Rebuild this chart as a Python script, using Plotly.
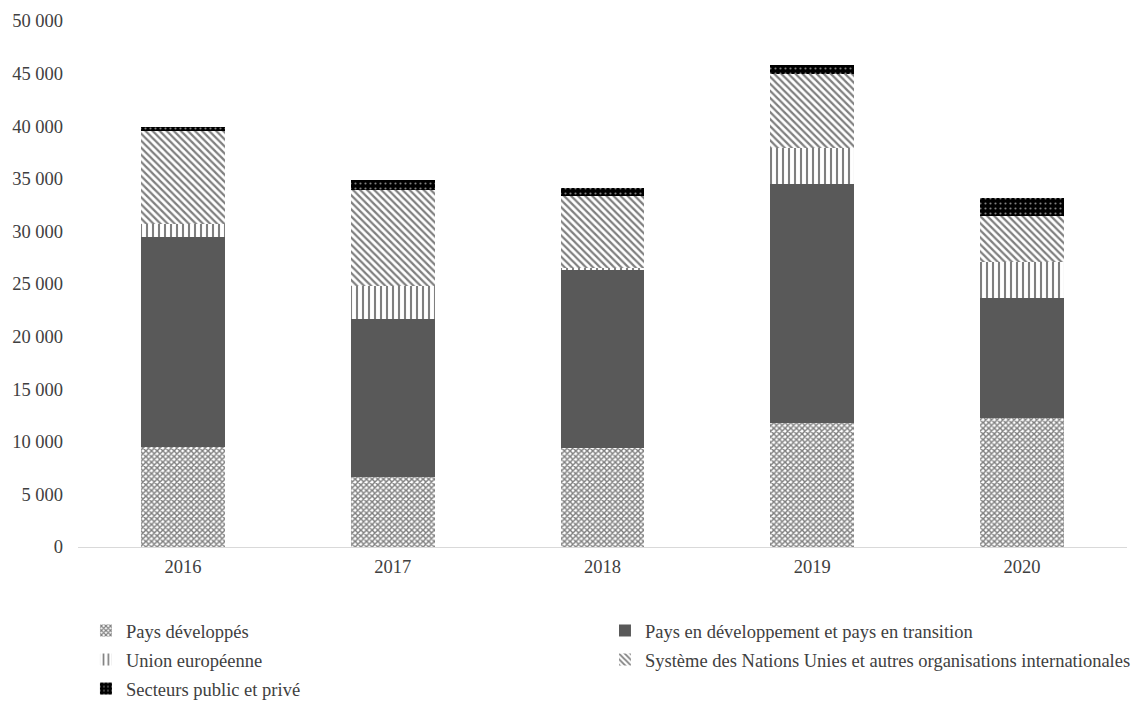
import plotly.graph_objects as go

# Annual totals by source of funding
years = ["2016", "2017", "2018", "2019", "2020"]
pays_developpes = [9500, 6650, 9400, 11800, 12250]
pays_en_developpement = [20000, 15050, 17000, 22700, 11400]
union_europeenne = [1200, 3100, 100, 3400, 3400]
systeme_nu = [8800, 9100, 6900, 7050, 4400]
secteurs_public_prive = [400, 950, 760, 850, 1700]

series_names = [
    "Pays développés",
    "Pays en développement et pays en transition",
    "Union européenne",
    "Système des Nations Unies et autres organisations internationales",
    "Secteurs public et privé",
]

y_ticks = [0, 5000, 10000, 15000, 20000, 25000, 30000, 35000, 40000, 45000, 50000]
y_tick_labels = ["0", "5 000", "10 000", "15 000", "20 000", "25 000",
                 "30 000", "35 000", "40 000", "45 000", "50 000"]

FONT = "Liberation Serif, Times New Roman, serif"
TEXT = "#404040"
FS = 18.5

styles = [
    dict(color="white", pattern=dict(shape="x", fgcolor="black", bgcolor="white",
                                      size=4, solidity=0.6, fillmode="overlay")),
    dict(color="#595959"),
    dict(color="white", pattern=dict(shape="|", fgcolor="black", bgcolor="white",
                                      size=6, solidity=0.35, fillmode="overlay")),
    dict(color="white", pattern=dict(shape="\\", fgcolor="black", bgcolor="white",
                                      size=5, solidity=0.45, fillmode="overlay")),
    dict(color="black", pattern=dict(shape=".", fgcolor="white", bgcolor="black",
                                      size=5, solidity=0.15, fillmode="overlay")),
]
values = [pays_developpes, pays_en_developpement, union_europeenne,
          systeme_nu, secteurs_public_prive]

# One single-entry legend per series, laid out as a two-column key under the axis
legend_ids = ["legend", "legend2", "legend3", "legend4", "legend5"]
legend_pos = [(0.076, 0.0999), (0.5349, 0.0999),
              (0.076, 0.0585), (0.5349, 0.0585),
              (0.076, 0.0171)]

fig = go.Figure()
for name, vals, st, lg in zip(series_names, values, styles, legend_ids):
    fig.add_trace(go.Bar(
        x=years, y=vals, name=name, legend=lg,
        marker=dict(line=dict(width=0), **st),
        hovertemplate="%{x}: %{y}<extra>" + name + "</extra>",
    ))

legend_layout = {}
for lg, (lx, ly) in zip(legend_ids, legend_pos):
    legend_layout[lg] = dict(
        xref="container", yref="container",
        x=lx, y=ly, xanchor="left", yanchor="middle",
        orientation="v",
        font=dict(family=FONT, size=FS, color=TEXT),
        bgcolor="rgba(0,0,0,0)", borderwidth=0,
        itemclick=False, itemdoubleclick=False,
    )

fig.update_layout(
    barmode="stack",
    bargap=0.6,
    width=1131, height=701,
    margin=dict(l=78, r=4, t=21, b=154, autoexpand=False),
    paper_bgcolor="white", plot_bgcolor="white",
    font=dict(family=FONT, size=FS, color=TEXT),
    showlegend=True,
    xaxis=dict(
        showline=True, linecolor="#d9d9d9", linewidth=1,
        showgrid=False, ticks="", ticklabelstandoff=3,
        tickfont=dict(family=FONT, size=FS, color=TEXT),
    ),
    yaxis=dict(
        range=[0, 50000], tickvals=y_ticks, ticktext=y_tick_labels,
        showgrid=False, zeroline=False, showline=False, ticks="",
        ticklabelstandoff=14,
        tickfont=dict(family=FONT, size=FS, color=TEXT),
    ),
    **legend_layout,
)

fig.write_html("out.html")
